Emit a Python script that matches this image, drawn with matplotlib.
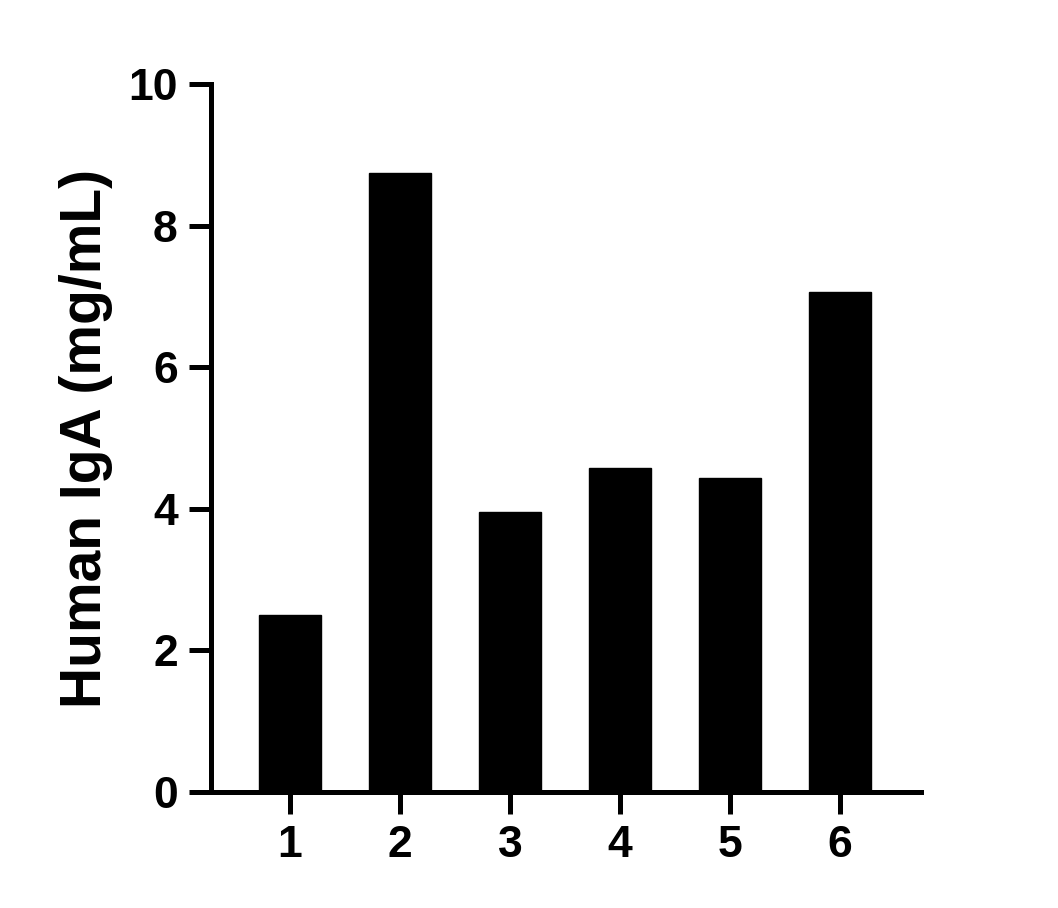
import matplotlib
matplotlib.use("Agg")
import matplotlib.pyplot as plt

categories = ["1", "2", "3", "4", "5", "6"]
values = [2.5, 8.74, 3.95, 4.58, 4.43, 7.06]
yticks = [0, 2, 4, 6, 8, 10]
ylabel = "Human IgA (mg/mL)"

plt.rcParams['font.family'] = ['Liberation Sans', 'DejaVu Sans']
plt.rcParams['font.weight'] = 'bold'

fig = plt.figure(figsize=(10.58, 9.08), dpi=100)
ax = fig.add_axes([211/1058, 1 - 792/908, (921-211)/1058, (792-84)/908])

x = list(range(1, len(categories) + 1))
ax.bar(x, values, width=0.56, color='black', edgecolor='black')

ax.set_xlim(0.282, 6.736)
ax.set_ylim(0, 10)
ax.set_yticks(yticks)
ax.set_xticks(x)
ax.set_xticklabels(categories)

for s in ['top', 'right']:
    ax.spines[s].set_visible(False)
for s in ['left', 'bottom']:
    ax.spines[s].set_linewidth(3.6)
    ax.spines[s].set_capstyle('projecting')

ax.tick_params(axis='both', direction='out', length=16, width=3.6,
               labelsize=32, pad=8)
for lab in ax.get_xticklabels() + ax.get_yticklabels():
    lab.set_fontweight('bold')

ax.set_ylabel(ylabel, fontsize=41, fontweight='bold', labelpad=11)

fig.savefig("out.png", dpi=100)
